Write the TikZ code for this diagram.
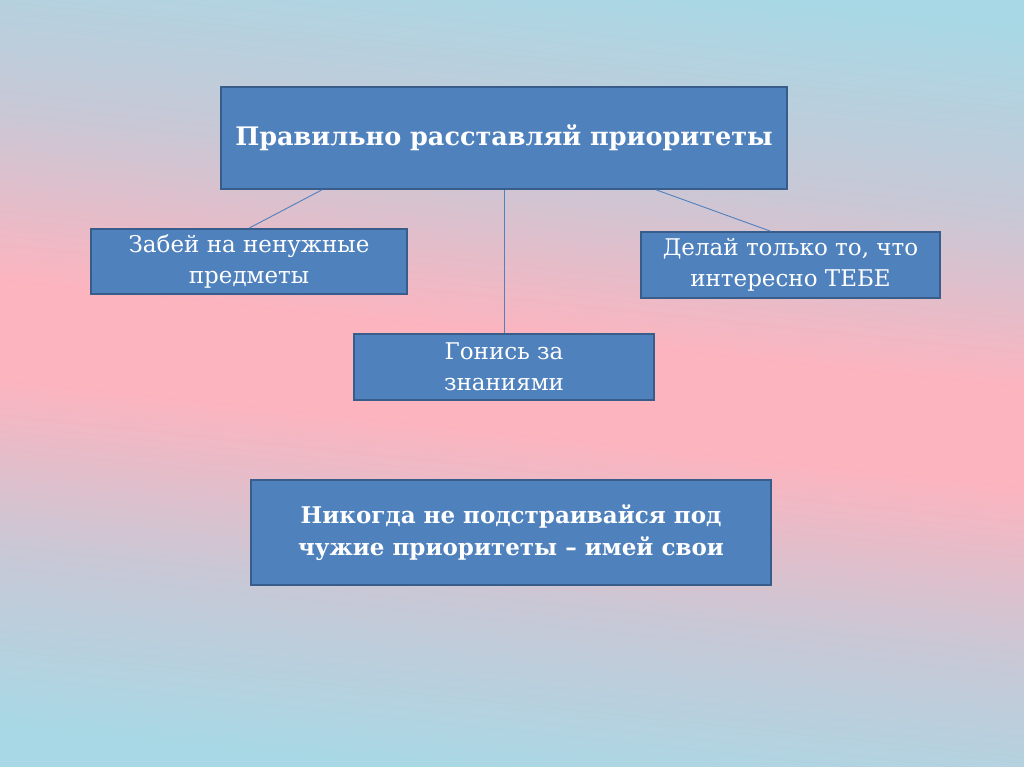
\documentclass[tikz,border=0pt]{standalone}
\usepackage{fontspec}
\setmainfont{DejaVu Serif}
\usepackage{xcolor}
\usetikzlibrary{positioning,calc}
\definecolor{skyblue}{HTML}{A8D8E5}
\definecolor{haze}{HTML}{C8C8D6}
\definecolor{softpink}{HTML}{FCB4BF}
\definecolor{boxblue}{HTML}{4F81BD}
\definecolor{boxedge}{HTML}{385D8A}
\pgfdeclareverticalshading{slidebg}{100bp}{color(0bp)=(skyblue); color(25bp)=(skyblue); color(36bp)=(haze); color(47bp)=(softpink); color(53bp)=(softpink); color(64bp)=(haze); color(76bp)=(skyblue); color(100bp)=(skyblue)}
\tikzset{
  tipbox/.style={draw=boxedge, fill=boxblue, line width=1.6pt, text=white, align=center, inner sep=2pt},
  tipline/.style={draw=boxblue, line width=0.9pt}
}

\begin{document}
\begin{tikzpicture}[x=1pt,y=1pt]
\useasboundingbox (0,0) rectangle (1024,767);
\shade[shading=slidebg, shading angle=-6] (0,0) rectangle (1024,767);

\node[tipbox, minimum width=566pt, minimum height=102pt, font=\bfseries\fontsize{25.5}{30}\selectfont] (title) at (504,629) {Правильно расставляй приоритеты};
\node[tipbox, minimum width=316pt, minimum height=65pt, font=\fontsize{23}{31.5}\selectfont] (forget) at (249,505.5) {Забей на ненужные\\предметы};
\node[tipbox, minimum width=299pt, minimum height=66pt, font=\fontsize{23}{31.5}\selectfont] (own) at (790.5,502) {Делай только то, что\\интересно ТЕБЕ};
\node[tipbox, minimum width=300pt, minimum height=66pt, font=\fontsize{23}{31.5}\selectfont] (chase) at (504,400) {Гонись за\\знаниями};
\node[tipbox, minimum width=520pt, minimum height=105pt, font=\bfseries\fontsize{23}{31.5}\selectfont] (never) at (511,234.5) {Никогда не подстраивайся под\\чужие приоритеты – имей свои};

\draw[tipline] ($(title.south)+(-182,0)$) -- (forget.north);
\draw[tipline] (title.south) -- (chase.north);
\draw[tipline] ($(title.south)+(152,0)$) -- ($(own.north)+(-20,0)$);
\end{tikzpicture}
\end{document}
